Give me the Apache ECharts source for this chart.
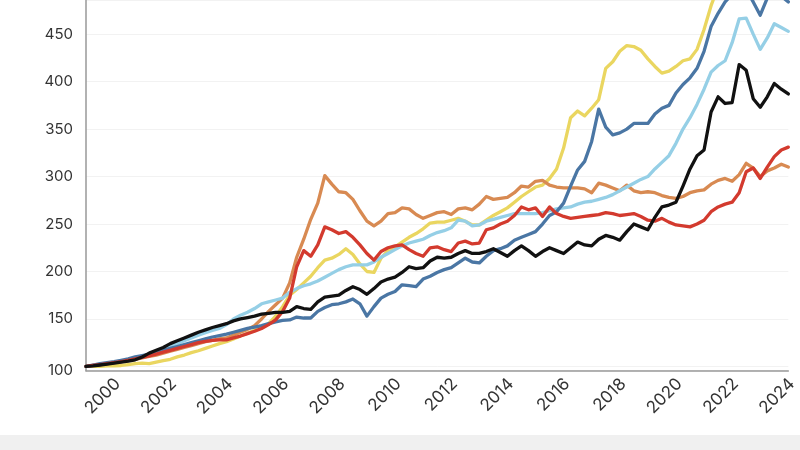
<!DOCTYPE html>
<html>
<head>
<meta charset="utf-8">
<script src="https://cdn.jsdelivr.net/npm/echarts@6/dist/echarts.min.js"></script>
<style>
  html, body { margin: 0; padding: 0; background: #ffffff; }
  #chart { width: 800px; height: 450px; }
</style>
</head>
<body>
<div id="chart"></div>
<script>
// Quarterly categories 1999-Q1 .. 2024-Q1
const startYear = 1999;
const endYear = 2024;
const categories = [];
for (let y = startYear; y <= endYear; y++) {
  for (let q = 1; q <= 4; q++) {
    if (y === endYear && q > 1) break;
    categories.push(y + '-Q' + q);
  }
}

const xTickLabels = ['2000','2002','2004','2006','2008','2010','2012','2014','2016','2018','2020','2022','2024'];
const yTickLabels = ['100','150','200','250','300','350','400','450'];

const seriesBlack = [
  100,100.5,101.5,102.5,103.5,104.5,105.5,107,110,114,
  117,120,124,127,130,133,136,138.5,141,143,
  145,148,150,151.5,153,155,156,157,157,158,
  163,161,160,168,173,174,175,180,184,181,
  176,182,189,192,194,199,205,203,204,211,
  215,214,215,219,222,219,219,221,224,220,
  216,222,227,222,216,221,225,222,219,225,
  231,228,227,234,238,236,233,242,250,247,
  244,257,268,270,273,290,308,322,328,368,
  384,377,378,418,412,382,373,384,398,392,
  387
];

const seriesDarkBlue = [
  100,101.5,103,104,105,106.5,108,110,111.5,113,
  115,117,119,121,123,125,127,129,131,132.5,
  134,136,138,140,141.5,143,145,147,148.5,149,
  152,151,151,158,162,165,166,168,171,166,
  153,163,172,176,179,186,185,184,192,195,
  199,202,204,209,214,210,209,216,222,224,
  227,233,236,239,242,250,259,263,272,290,
  307,316,337,371,352,344,346,350,356,356,
  356,366,372,375,388,397,404,414,432,458,
  472,484,492,500,497,484,470,488,495,490,
  484
];

const seriesLightBlue = [
  100,101,102,103,104,105,106.5,108,110,112.5,
  115,118,121,124,127,130,133,135.5,138,140,
  144,150,154,157,161,166,168,170,172,178,
  182,185,187,190,194,198,202,205,207,207,
  207,210,215,219,223,227,230,232,234,238,
  241,243,246,254,253,248,249,253,255,257,
  259,261,261,261,261,262,264,266,267,268,
  271,273,274,276,278,281,285,289,293,297,
  300,308,315,322,335,350,362,376,392,410,
  417,422,441,466,467,450,434,446,461,457,
  453
];

const seriesYellow = [
  100,100,100,100.5,100.5,101,102,103,103.5,103,
  104.5,106,107.5,110,112,114.5,116.5,119,121.5,124,
  126,129,132,135,138,141,145,153,163,175,
  181,188,195,204,212,214,218,224,218,208,
  200,199,214,222,226,231,236,240,245,251,
  252,252,254,256,253,249,249,254,259,263,
  267,273,279,284,289,291,298,308,330,362,
  369,364,372,381,414,421,432,438,437,433,
  424,416,409,411,416,422,424,434,455,480,
  500,515,530,545,555,560,565,575,585,590,
  595
];

const seriesOrange = [
  100,101,102,103,104,105,106,107.5,109,110.5,
  112,114,116,118,120,122,124,126,127.5,129,
  130,133,136,139,143,150,158,165,172,188,
  215,234,255,272,301,292,284,283,276,264,
  253,248,253,261,262,267,266,260,256,259,
  262,263,260,266,267,265,271,279,276,277,
  278,283,290,289,295,296,291,289,288,288,
  288,287,283,293,291,288,285,291,285,283,
  284,283,280,278,277,279,283,285,286,292,
  296,298,295,302,314,309,300,306,309,313,
  310
];

const seriesRed = [
  100,101,102,103,104,105,106.5,108,109.5,111,
  113,115,117,119,121,123,125,126.5,127.5,128,
  128,130,132,134.5,137,140,144,149,158,172,
  205,222,216,228,247,244,240,242,236,228,
  219,212,221,225,227,228,223,219,216,225,
  226,223,221,230,232,229,230,244,246,250,
  253,259,268,265,267,258,268,261,258,256,
  257,258,259,260,262,261,259,260,261,258,
  254,253,256,252,249,248,247,250,254,263,
  268,271,273,283,305,309,298,310,321,328,
  331
];

const seriesDefs = [
  { name: 'Yellow', data: seriesYellow, color: '#ead660' },
  { name: 'Orange', data: seriesOrange, color: '#d88a52' },
  { name: 'Light blue', data: seriesLightBlue, color: '#95cfe6' },
  { name: 'Dark blue', data: seriesDarkBlue, color: '#4a76a4' },
  { name: 'Red', data: seriesRed, color: '#d33a2e' },
  { name: 'Black', data: seriesBlack, color: '#111111' }
];

const chart = echarts.init(document.getElementById('chart'), null, { renderer: 'canvas' });

const option = {
  backgroundColor: '#ffffff',
  animation: false,
  graphic: [{
    type: 'rect',
    left: 0, top: 435,
    shape: { width: 800, height: 15 },
    style: { fill: '#f0f0f0' },
    silent: true
  }],
  grid: { left: 86, right: 1.5, top: 0, bottom: 79.3, containLabel: false },
  xAxis: {
    type: 'category',
    data: categories,
    boundaryGap: false,
    axisLine: { show: true, lineStyle: { color: '#999999', width: 1.5 } },
    axisTick: { show: false },
    splitLine: { show: false },
    axisLabel: {
      rotate: 45,
      margin: 14,
      padding: [0, -5, 0, 0],
      fontFamily: 'Inter, "Noto Sans", sans-serif',
      fontSize: 17,
      color: '#333333',
      interval: function (idx, val) {
        const parts = val.split('-Q');
        return parts[1] === '1' && xTickLabels.indexOf(parts[0]) >= 0;
      },
      formatter: function (val) { return val.split('-Q')[0]; }
    }
  },
  yAxis: {
    type: 'value',
    min: 95.5,
    max: 486,
    minInterval: 50,
    maxInterval: 50,
    axisLine: { show: true, lineStyle: { color: '#999999', width: 1.5 } },
    axisTick: { show: false },
    splitLine: { show: true, lineStyle: { color: '#f2f2f2', width: 1 } },
    axisLabel: {
      margin: 13,
      fontFamily: 'Inter, "Noto Sans", sans-serif',
      fontSize: 15,
      color: '#333333',
      padding: [0, 0, 11, 0],
      formatter: function (v) {
        if (v < 100) return yTickLabels[0];
        const s = String(Math.round(v));
        if (s === yTickLabels[0]) return '';
        return yTickLabels.indexOf(s) >= 0 ? s : '';
      }
    }
  },
  series: seriesDefs.map(d => ({
    name: d.name,
    type: 'line',
    data: d.data,
    symbol: 'none',
    smooth: false,
    clip: true,
    lineStyle: { color: d.color, width: 3.3, join: 'round', cap: 'round' },
    itemStyle: { color: d.color }
  }))
};

chart.setOption(option);
</script>
</body>
</html>
